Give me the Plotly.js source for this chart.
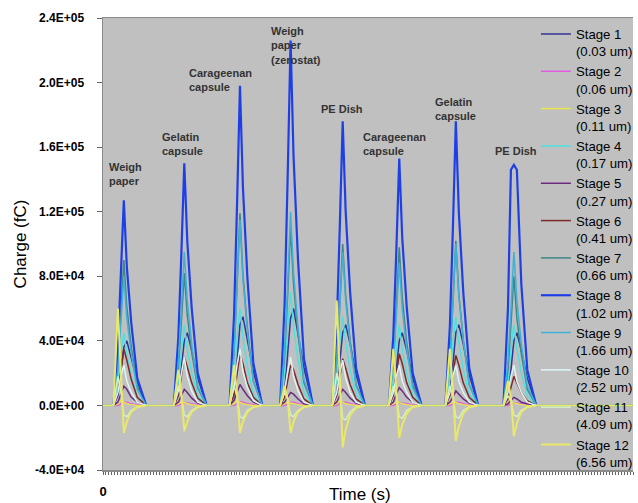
<!DOCTYPE html>
<html>
<head>
<meta charset="utf-8">
<script src="https://cdn.plot.ly/plotly-3.0.1.min.js"></script>
<style>html,body{margin:0;padding:0;background:#fff;}#chart{width:638px;height:503px;}</style>
</head>
<body>
<div id="chart"></div>
<script>
// ---- data (charge values in 10^3 fC) ----
const peakTimes = [7, 27.3, 46, 63, 80.5, 99.5, 118.5, 138];          // s, centre of each event
const sampleOffsets = [-3.5, -2, -1, 0, 1, 2.5, 4.5, 7.5];              // s, sample times around each event
const timeStart = 0, timeEnd = 178;

const stageNames = ["Stage 1<br>(0.03 um)", "Stage 2<br>(0.06 um)", "Stage 3<br>(0.11 um)", "Stage 4<br>(0.17 um)",
  "Stage 5<br>(0.27 um)", "Stage 6<br>(0.41 um)", "Stage 7<br>(0.66 um)", "Stage 8<br>(1.02 um)",
  "Stage 9<br>(1.66 um)", "Stage 10<br>(2.52 um)", "Stage 11<br>(4.09 um)", "Stage 12<br>(6.56 um)"];

const stage1 = [[0,6,20,36,40,30,15,0],[0,7,22,40,45,34,17,0],[0,8,27,50,55,41,21,0],[0,9,30,54,60,45,23,0],
  [0,8,25,45,50,38,19,0],[0,7,22,40,45,34,17,0],[0,8,25,45,50,38,19,0],[0,7,22,40,45,34,17,0]];
const stage2 = [[0,0,1,2,2,1,0.5,0],[0,0,1,2,1.5,1,0.5,0],[0,0,1,2.5,2,1,0.5,0],[0,0,1,2,2,1,0.5,0],
  [0,0,1,2,2,1,0.5,0],[0,0,1,2,1.5,1,0.5,0],[0,0,1,2,2,1,0.5,0],[0,0,1,1.5,1.5,1,0.5,0]];
const stage3 = [[0,1,3,2,1,0.5,0,0],[0,1,2,2,1,0.5,0,0],[0,1,3,2,1,0.5,0,0],[0,1,2,1.5,1,0.5,0,0],
  [0,1,3,2,1,0.5,0,0],[0,1,2,2,1,0.5,0,0],[0,1,2,2,1,0.5,0,0],[0,1,2,1.5,1,0.5,0,0]];
const stage4 = [[0,14,32,45,32,18,5,0],[0,15,35,50,35,20,6,0],[0,18,42,60,42,24,7,0],[0,21,49,70,49,28,8,0],
  [0,17,39,55,39,22,7,0],[0,15,35,50,35,20,6,0],[0,17,39,55,39,22,7,0],[0,15,35,50,35,20,6,0]];
const stage5 = [[0,2,7,12,10,5,2,0],[0,2,6,10,8,4.5,1.5,0],[0,3,8,13,10,6,2,0],[0,2,5,8,7,4,1,0],
  [0,2,6,10,8,4.5,1.5,0],[0,2,7,11,9,5,2,0],[0,2,5,9,7,4,1.5,0],[0,1,3,5,4,2,1,0]];
const stage6 = [[0,7,21,35,28,16,5,0],[0,6,18,30,24,14,4.5,0],[0,6,19,32,26,14,5,0],[0,5,15,25,22,13,4,0],
  [0,6,17,29,23,13,4,0],[0,6,19,32,26,14,5,0],[0,6,19,31,25,14,5,0],[0,4,11,18,14,8,3,0]];
const stage7 = [[0,25,56,90,61,36,12,0],[0,23,51,82,56,33,11,0],[0,33,74,119,81,48,15,0],[0,31,68,110,75,44,14,0],
  [0,28,62,100,68,40,13,0],[0,27,61,98,67,39,13,0],[0,29,63,102,69,41,13,0],[0,22,50,80,54,32,10,0]];
const stage8 = [[0,36,79,127,86,51,17,0],[0,42,93,150,102,60,20,0],[0,55,123,198,135,79,26,0],[0,63,140,226,154,90,29,0],
  [0,49,109,176,120,70,23,0],[0,43,95,153,104,61,20,0],[0,49,109,176,120,70,23,0],[0,60,146,149,146,75,22,0]];
const stage9 = [[0,22,50,80,54,32,10,0],[0,27,59,95,65,38,12,0],[0,32,71,115,78,46,15,0],[0,34,74,120,82,48,16,0],
  [0,27,59,95,65,38,12,0],[0,25,55,88,60,35,11,0],[0,28,62,100,68,40,13,0],[0,27,59,95,65,38,12,0]];
const stage10 = [[0,8,18,25,15,8,2,0],[0,9,21,30,18,9,2,0],[0,11,25,35,21,11,3,0],[0,9,21,30,18,9,2,0],
  [0,8,20,28,17,8,2,0],[0,8,18,25,15,8,2,0],[0,8,18,25,15,8,2,0],[0,8,18,25,15,8,2,0]];
const stage11 = [[0,18,8,-6,-7,-3,-1,0],[0,12,6,-6,-7,-3,-1,0],[0,12,6,-7,-8,-3,-1,0],[0,8,4,-6,-7,-3,-1,0],
  [0,20,10,-8,-9,-4,-1,0],[0,12,6,-7,-8,-3,-1,0],[0,12,6,-7,-8,-3,-1,0],[0,6,3,-6,-7,-3,-1,0]];
const stage12 = [[0,60,20,-17,-10,-4,-1,0],[0,22,8,-16,-10,-4,-1,0],[0,25,8,-17,-10,-4,-1,0],[0,12,4,-17,-10,-4,-1,0],
  [0,65,20,-26,-15,-6,-1.5,0],[0,35,10,-20,-12,-5,-1,0],[0,35,10,-22,-13,-5,-1,0],[0,15,5,-19,-11,-4,-1,0]];

const stageValues = [stage1, stage2, stage3, stage4, stage5, stage6, stage7, stage8, stage9, stage10, stage11, stage12];

const yTickVals = [-40000, 0, 40000, 80000, 120000, 160000, 200000, 240000];
const yTickText = ["-4.0E+04", "0.0E+00", "4.0E+04", "8.0E+04", "1.2E+05", "1.6E+05", "2.0E+05", "2.4E+05"];

const eventLabels = ["Weigh<br>paper", "Gelatin<br>capsule", "Carageenan<br>capsule", "Weigh<br>paper<br>(zerostat)",
  "PE Dish", "Carageenan<br>capsule", "Gelatin<br>capsule", "PE Dish"];

// ---- styles ----
const colors = ["#343494", "#e35ce3", "#e6e64c", "#4fe0e0", "#6b2c80", "#7e2a2a", "#3f8585", "#1f3fe6",
  "#3fb0d8", "#dcf4f4", "#d4f0c4", "#e8e86a"];
const widths = [1.5, 1.5, 1.5, 1.5, 1.5, 1.5, 1.5, 2.2, 1.5, 1.5, 1.5, 2];

const times = [timeStart];
peakTimes.forEach(c => sampleOffsets.forEach(o => times.push(+(c + o).toFixed(2))));
times.push(timeEnd);

const traces = stageValues.map((s, i) => ({
  type: "scatter", mode: "lines", name: stageNames[i],
  x: times,
  y: [0].concat(s.flat().map(v => v * 1000), [0]),
  line: {color: colors[i], width: widths[i]}
}));

// label positions (left/top in pixels of the figure) converted to paper coords
const plotL = 103, plotR = 638, plotT = 18, plotB = 470;
const labelPos = [[107,159],[161,129],[188,65],[271,23],[321,101],[363,129],[436,94],[497,143]];
const annotations = eventLabels.map((t, i) => ({
  text: t, xref: "paper", yref: "paper",
  x: (labelPos[i][0] - plotL) / (plotR - plotL),
  y: (plotB - labelPos[i][1]) / (plotB - plotT),
  xanchor: "left", yanchor: "top", align: "left", showarrow: false,
  font: {family: "Liberation Sans, Arial, sans-serif", size: 11, color: "#333333", weight: "bold"}
}));
annotations.push({
  text: "Time (s)", xref: "paper", yref: "paper",
  x: (362 - plotL) / (plotR - plotL), y: (plotB - 495) / (plotB - plotT),
  xanchor: "center", yanchor: "middle", showarrow: false,
  font: {family: "Liberation Sans, Arial, sans-serif", size: 17, color: "#000"}
});

const layout = {
  width: 638, height: 503,
  margin: {l: plotL, r: 0, t: plotT, b: 503 - plotB, pad: 0},
  paper_bgcolor: "#ffffff", plot_bgcolor: "#c0c0c0",
  showlegend: true,
  legend: {
    x: (540 - plotL) / (plotR - plotL), y: 0.998, xanchor: "left", yanchor: "top",
    bgcolor: "rgba(0,0,0,0)", borderwidth: 0, valign: "top",
    font: {family: "Liberation Sans, Arial, sans-serif", size: 13.2, color: "#000"},
    tracegroupgap: 0
  },
  xaxis: {
    range: [timeStart, timeEnd], showgrid: false, zeroline: false,
    showline: true, linecolor: "#8a8a8a", linewidth: 1.5, mirror: true,
    tickvals: [0], ticktext: ["0"], ticks: "outside", ticklen: 3, tickcolor: "#666",
    ticklabelstandoff: 6,
    tickfont: {family: "Liberation Sans, Arial, sans-serif", size: 13, color: "#000", weight: "bold"},
    minor: {dtick: 1, ticks: "outside", ticklen: 3, tickcolor: "#666", showgrid: false}
  },
  yaxis: {
    range: [-40000, 240000], showgrid: false, zeroline: false,
    showline: true, linecolor: "#8a8a8a", linewidth: 1.5,
    tickvals: yTickVals, ticktext: yTickText, ticks: "outside", ticklen: 5, tickcolor: "#666",
    ticklabelstandoff: 10,
    tickfont: {family: "Liberation Sans, Arial, sans-serif", size: 12, color: "#000", weight: "bold"},
    title: {text: "Charge (fC)", standoff: 4,
      font: {family: "Liberation Sans, Arial, sans-serif", size: 17, color: "#000"}}
  },
  annotations: annotations
};

Plotly.newPlot("chart", traces, layout, {staticPlot: true, displayModeBar: false});
</script>
</body>
</html>
